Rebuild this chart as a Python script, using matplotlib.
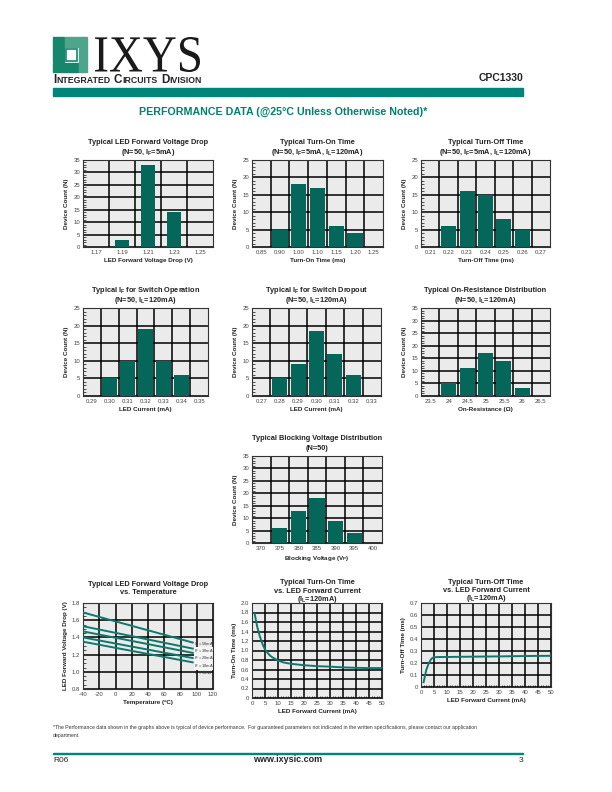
import numpy as np
import matplotlib
matplotlib.use('Agg')
import matplotlib.pyplot as plt
from matplotlib.ticker import MultipleLocator
from matplotlib.patches import Rectangle, PathPatch
from matplotlib.textpath import TextPath
from matplotlib.font_manager import FontProperties
from matplotlib.transforms import Affine2D

# histogram data (bin labels / device counts)
ledVfBins = ['1.17', '1.19', '1.21', '1.23', '1.25']
ledVfCounts = [0, 3, 33, 14, 0]
turnOnBins = ['0.85', '0.90', '1.00', '1.10', '1.15', '1.20', '1.25']
turnOnCounts = [0, 5, 18, 17, 6, 4, 0]
turnOffBins = ['0.21', '0.22', '0.23', '0.24', '0.25', '0.26', '0.27']
turnOffCounts = [0, 6, 16, 15, 8, 5, 0]
ifOperateBins = ['0.29', '0.30', '0.31', '0.32', '0.33', '0.34', '0.35']
ifOperateCounts = [0, 5, 10, 19, 10, 6, 0]
ifDropoutBins = ['0.27', '0.28', '0.29', '0.30', '0.31', '0.32', '0.33']
ifDropoutCounts = [0, 5, 9, 18.5, 12, 6, 0]
ronBins = ['23.5', '24', '24.5', '25', '25.5', '26', '26.5']
ronCounts = [0, 5, 11, 17, 14, 3, 0]
bvBins = ['370', '375', '380', '385', '390', '395', '400']
bvCounts = [0, 6, 13, 18, 9, 4, 0]

# LED forward voltage vs temperature
tempEnds = [-40, 95]
vf50mA = [1.69, 1.34]
vf30mA = [1.53, 1.27]
vf20mA = [1.47, 1.22]
vf10mA = [1.40, 1.16]
vf5mA = [1.35, 1.11]
vfCurrentLabels = ['50mA', '30mA', '20mA', '10mA', '5mA']

# turn-on / turn-off time vs LED current
ifOn = [1, 2, 3, 4, 5, 6, 7, 8, 10, 12, 15, 20, 25, 30, 35, 40, 45, 50]
tOn = [1.78, 1.50, 1.30, 1.14, 1.02, 0.95, 0.89, 0.85, 0.79, 0.75, 0.72, 0.69,
       0.67, 0.66, 0.645, 0.635, 0.63, 0.63]
ifOff = [1, 2, 3, 4, 5, 7, 10, 20, 30, 40, 50]
tOff = [0.04, 0.14, 0.20, 0.235, 0.248, 0.25, 0.25, 0.253, 0.255, 0.258, 0.26]

W, H = 612, 792
TEAL = '#00857a'
BAR = '#05665a'
LINE = '#0b7a6c'
BG = '#ebebeb'

plt.rcParams['font.family'] = ['Liberation Sans', 'DejaVu Sans']
plt.rcParams['axes.unicode_minus'] = False
plt.rcParams['mathtext.fontset'] = 'custom'
plt.rcParams['mathtext.rm'] = 'Liberation Sans'
plt.rcParams['mathtext.bf'] = 'Liberation Sans:bold'
plt.rcParams['mathtext.it'] = 'Liberation Sans:italic'

fig = plt.figure(figsize=(W / 100, H / 100), dpi=100)


def box(x0, y0, x1, y1):
    return [x0 / W, 1 - y1 / H, (x1 - x0) / W, (y1 - y0) / H]


def ftext(x, y, s, **kw):
    return fig.text(x / W, 1 - y / H, s, **kw)


def addTitle(rect, lines, offsets):
    cx = (rect[0] + rect[2]) / 2
    for line, off in zip(lines, offsets):
        ftext(cx, rect[1] - off, line, ha='center', va='center',
              fontsize=5.3, weight='bold', color='#222222')


def styleAxes(ax):
    ax.set_facecolor(BG)
    ax.set_axisbelow(True)
    for s in ax.spines.values():
        s.set_color('#333333')
        s.set_linewidth(0.8)
    ax.tick_params(axis='both', which='major', length=0, labelsize=4.3,
                   colors='#444444', pad=2)


def drawHistogram(rect, bins, counts, yMax, titleLines, xlabel, barWidth=0.82):
    ax = fig.add_axes(box(*rect))
    styleAxes(ax)
    x = np.arange(len(bins))
    ax.bar(x, counts, width=barWidth, color=BAR, zorder=2)
    ax.set_xlim(-0.5, len(bins) - 0.5)
    ax.set_ylim(0, yMax)
    ax.set_xticks(x)
    ax.set_xticklabels(bins)
    ax.set_xticks(x[:-1] + 0.5, minor=True)
    ax.set_yticks(np.arange(0, yMax + 1, 5))
    ax.yaxis.set_minor_locator(MultipleLocator(1))
    ax.tick_params(axis='x', which='minor', length=0)
    ax.tick_params(axis='y', which='minor', direction='in', length=1.8,
                   width=0.6, color='#333333')
    ax.grid(which='minor', axis='x', color='black', lw=1.1)
    ax.grid(which='major', axis='y', color='black', lw=1.1)
    ax.set_xlabel(xlabel, fontsize=4.5, weight='bold', labelpad=2, color='#222222')
    ax.set_ylabel('Device Count (N)', fontsize=4.5, weight='bold', labelpad=3,
                  color='#222222')
    addTitle(rect, titleLines, [17.5, 8])
    return ax


def drawCurveAxes(rect, xlim, xstep, ylim, ystep, yfmt, titleLines, offsets,
                  xlabel, ylabel, xminor=None, yminor=None):
    ax = fig.add_axes(box(*rect))
    styleAxes(ax)
    ax.set_xlim(*xlim)
    ax.set_ylim(*ylim)
    ax.set_xticks(np.arange(xlim[0], xlim[1] + xstep / 2, xstep))
    yt = np.arange(ylim[0], ylim[1] + ystep / 2, ystep)
    ax.set_yticks(yt)
    ax.set_yticklabels([yfmt(v) for v in yt])
    if xminor:
        ax.xaxis.set_minor_locator(MultipleLocator(xminor))
    if yminor:
        ax.yaxis.set_minor_locator(MultipleLocator(yminor))
    ax.tick_params(which='minor', direction='in', length=1.8, width=0.6,
                   color='#333333')
    ax.grid(which='major', color='black', lw=1.1)
    ax.set_xlabel(xlabel, fontsize=4.5, weight='bold', labelpad=2, color='#222222')
    ax.set_ylabel(ylabel, fontsize=4.5, weight='bold', labelpad=3, color='#222222')
    addTitle(rect, titleLines, offsets)
    return ax


# ---------- header ----------
logoDark = '#17866c'
logoLight = '#4fa58c'
fig.add_artist(Rectangle((53, H - 62), 10.5, 25, transform=None, color=logoDark))
fig.add_artist(Rectangle((53, H - 72), 24.5, 9, transform=None, color=logoDark))
fig.add_artist(Rectangle((64.5, H - 47), 22.5, 10, transform=None, color=logoLight))
fig.add_artist(Rectangle((78.5, H - 72), 8.5, 24, transform=None, color=logoLight))
fig.add_artist(Rectangle((66, H - 61), 11, 12, transform=None, color='white',
                         ec=logoDark, lw=1.2))

ixys = TextPath((0, 0), 'IXYS', size=1, prop=FontProperties(family='Liberation Serif'))
ext = ixys.get_extents()
tr = Affine2D().translate(-ext.x0, -ext.y0).scale(105 / ext.width, 35 / ext.height) \
    .translate(95, H - 72)
fig.add_artist(PathPatch(ixys, transform=tr, color='#1a1a1a', lw=0))

renderer = fig.canvas.get_renderer()
cx = 53
for word in ['INTEGRATED', 'CIRCUITS', 'DIVISION']:
    t = ftext(cx, 83.3, word[0], fontsize=8.4, weight='bold', va='baseline',
              color='#222222')
    cx += t.get_window_extent(renderer).width
    t = ftext(cx, 83.3, word[1:], fontsize=6.3, weight='bold', va='baseline',
              color='#222222')
    cx += t.get_window_extent(renderer).width + 3.5

ftext(523, 78, 'CPC1330', ha='right', va='center', fontsize=7.5, weight='bold',
      color='#222222')
fig.add_artist(Rectangle((53, H - 95.5), 470, 7.5, transform=None, color=TEAL))
ftext(283, 112, 'PERFORMANCE DATA (@25\u00b0C Unless Otherwise Noted)*', ha='center',
      va='center', fontsize=7.7, weight='bold', color='#00806f')

# ---------- histograms ----------
drawHistogram((83, 160, 213, 247), ledVfBins, ledVfCounts, 35,
              ['Typical LED Forward Voltage Drop', r'(N=50, I$_\mathbf{F}$=5mA)'],
              'LED Forward Voltage Drop (V)', barWidth=0.56)
drawHistogram((252, 160, 383, 247), turnOnBins, turnOnCounts, 25,
              ['Typical Turn-On Time',
               r'(N=50, I$_\mathbf{F}$=5mA, I$_\mathbf{L}$=120mA)'],
              'Turn-On Time (ms)')
drawHistogram((421, 160, 550, 247), turnOffBins, turnOffCounts, 25,
              ['Typical Turn-Off Time',
               r'(N=50, I$_\mathbf{F}$=5mA, I$_\mathbf{L}$=120mA)'],
              'Turn-Off Time (ms)')
drawHistogram((83, 308, 208, 396), ifOperateBins, ifOperateCounts, 25,
              [r'Typical I$_\mathbf{F}$ for Switch Operation',
               r'(N=50, I$_\mathbf{L}$=120mA)'],
              'LED Current (mA)', barWidth=0.86)
drawHistogram((252, 308, 381, 396), ifDropoutBins, ifDropoutCounts, 25,
              [r'Typical I$_\mathbf{F}$ for Switch Dropout',
               r'(N=50, I$_\mathbf{L}$=120mA)'],
              'LED Current (mA)')
drawHistogram((421, 308, 550, 396), ronBins, ronCounts, 35,
              ['Typical On-Resistance Distribution', r'(N=50, I$_\mathbf{L}$=120mA)'],
              'On-Resistance (\u03a9)')
drawHistogram((252, 456, 382, 543), bvBins, bvCounts, 35,
              ['Typical Blocking Voltage Distribution', '(N=50)'],
              r'Blocking Voltage (V$_\mathbf{P}$)')

# ---------- curves ----------
ax = drawCurveAxes((83, 603, 213, 689), (-40, 120), 20, (0.8, 1.8), 0.2,
                   lambda v: '%.1f' % v,
                   ['Typical LED Forward Voltage Drop', 'vs. Temperature'], [18, 10],
                   'Temperature (\u00baC)', 'LED Forward Voltage Drop (V)', yminor=0.05)
ax.add_patch(Rectangle((96, 1.02), 23.5, 0.27, color='#f6f6f6', lw=0, zorder=2.5))
for series in [vf50mA, vf30mA, vf20mA, vf10mA, vf5mA]:
    ax.plot(tempEnds, series, color=LINE, lw=1.4, zorder=3)
ax.text(97, 1.155, '\n'.join(r'I$_\mathrm{F}$ = ' + lab for lab in vfCurrentLabels),
        fontsize=2.9, va='center', ha='left', linespacing=0.95,
        color='#333333', zorder=4, clip_on=False)

ax = drawCurveAxes((252, 603, 382, 698), (0, 50), 5, (0, 2.0), 0.2,
                   lambda v: '0' if v == 0 else '%.1f' % v,
                   ['Typical Turn-On Time', 'vs. LED Forward Current',
                    r'(I$_\mathbf{L}$=120mA)'], [20, 11.5, 3.5],
                   'LED Forward Current (mA)', 'Turn-On Time (ms)', xminor=1)
ax.plot(ifOn, tOn, color=LINE, lw=1.4, zorder=3)

ax = drawCurveAxes((421, 603, 551, 687), (0, 50), 5, (0, 0.7), 0.1,
                   lambda v: '0' if v == 0 else '%.1f' % v,
                   ['Typical Turn-Off Time', 'vs. LED Forward Current',
                    r'(I$_\mathbf{L}$=120mA)'], [20, 12, 4],
                   'LED Forward Current (mA)', 'Turn-Off Time (ms)', xminor=1)
ax.plot(ifOff, tOff, color=LINE, lw=1.4, zorder=3)

# ---------- footer ----------
ftext(53, 727, '*The Performance data shown in the graphs above is typical of device '
      'performance.  For guaranteed parameters not indicated in the written '
      'specifications, please contact our application', fontsize=3.7, va='center',
      color='#333333')
ftext(53, 735, 'department.', fontsize=3.7, va='center', color='#333333')
fig.add_artist(Rectangle((53, H - 753.8), 470, 1.0, transform=None, color=TEAL))
ftext(53, 760, 'R06', fontsize=6, va='center', color='#222222')
ftext(288, 760, 'www.ixysic.com', ha='center', va='center', fontsize=6.5,
      weight='bold', color='#222222')
ftext(523, 760, '3', ha='right', va='center', fontsize=6, color='#222222')

fig.savefig('out.png', dpi=100)
